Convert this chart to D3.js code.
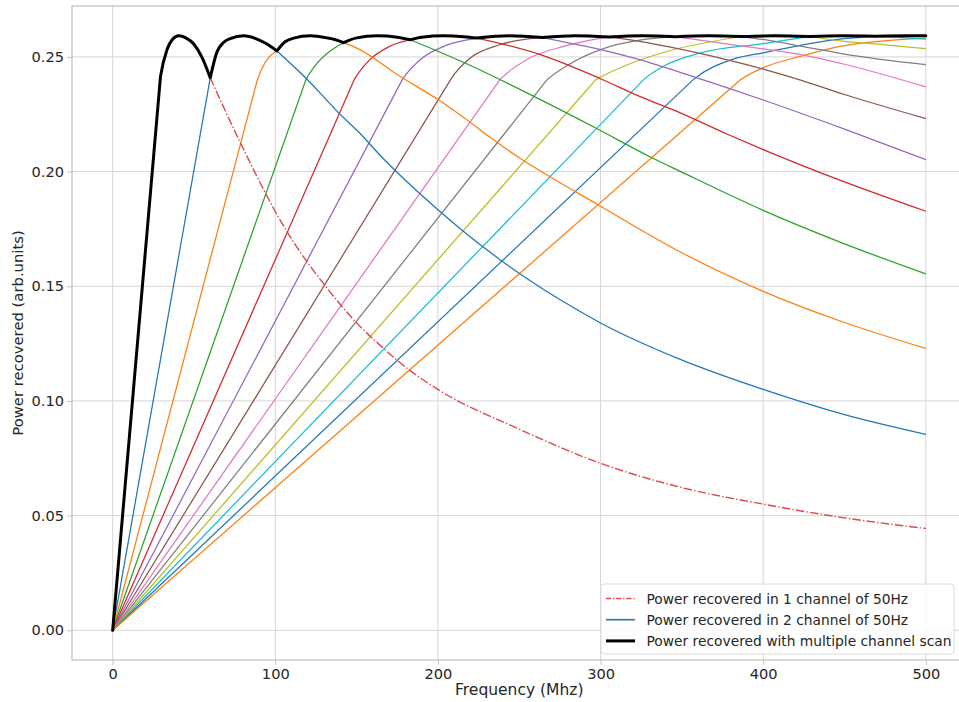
<!DOCTYPE html>
<html>
<head>
<meta charset="utf-8">
<script src="https://cdn.jsdelivr.net/npm/d3@7"></script>
<style>
  body { margin: 0; background: #fff; }
  svg { display: block; }
  text { font-family: "DejaVu Sans", sans-serif; fill: #262626; }
</style>
</head>
<body>
<svg id="chart" width="959" height="702"></svg>
<script>
// ---- data --------------------------------------------------------------
const xTicks = [0, 100, 200, 300, 400, 500];
const yTicks = [0.00, 0.05, 0.10, 0.15, 0.20, 0.25];
const xLabel = "Frequency (Mhz)";
const yLabel = "Power recovered (arb.units)";
const legendLabels = [
  "Power recovered in 1 channel of 50Hz",
  "Power recovered in 2 channel of 50Hz",
  "Power recovered with multiple channel scan"
];

// Crossover points where one channel hands over to the next (MHz, power)
const handoverPoints = [
  [60, 0.2409], [101, 0.2526], [142, 0.2562], [183, 0.2575], [224, 0.2582],
  [264, 0.2585], [305, 0.2587], [346, 0.2588], [387, 0.2589], [428, 0.2589],
  [469, 0.2590]
];

// Rising branch of each channel response: origin, knee, roll-off points
const risingBranches = [
  [[0, 0], [60, 0.2409]],
  [[0, 0], [88.7, 0.2393], [93.9, 0.2478], [101, 0.2526]],
  [[0, 0], [118.8, 0.2400], [126, 0.2475], [134, 0.2527], [142, 0.2562]],
  [[0, 0], [148.5, 0.2400], [158, 0.2487], [170, 0.2545], [183, 0.2575]],
  [[0, 0], [178, 0.2400], [190, 0.2493], [205, 0.2550], [224, 0.2582]],
  [[0, 0], [207.7, 0.2400], [220, 0.2496], [238, 0.2553], [264, 0.2585]],
  [[0, 0], [238, 0.2400], [255, 0.2490], [279, 0.2549], [305, 0.2587]],
  [[0, 0], [267, 0.2400], [280, 0.2465], [300, 0.2532], [326, 0.2575], [346, 0.2588]],
  [[0, 0], [297, 0.2400], [318, 0.2470], [343, 0.2528], [387, 0.2589]],
  [[0, 0], [326.5, 0.2401], [338.7, 0.2459], [361.2, 0.2517], [400, 0.2558], [428, 0.2589]],
  [[0, 0], [357, 0.2401], [381.6, 0.2490], [400, 0.2518], [447, 0.2578], [469, 0.2590]],
  [[0, 0], [386, 0.2400], [400, 0.2453], [422.7, 0.2502], [447.3, 0.2546], [500, 0.2582]]
];

// Falling branch of each channel response
const fallingBranches = [
  [[101, 0.2526], [118.6, 0.2409], [139, 0.2256], [152, 0.2167], [165, 0.2067], [200, 0.1834],
   [238, 0.1617], [275, 0.1442], [300, 0.1340], [349, 0.1181], [400, 0.1050], [450, 0.0940], [500, 0.0854]],
  [[142, 0.2562], [152, 0.2532], [175, 0.2423], [200, 0.2314], [250, 0.2060], [300, 0.1849],
   [350, 0.1646], [400, 0.1478], [450, 0.1342], [500, 0.1229]],
  [[183, 0.2575], [219, 0.2466], [259, 0.2328], [297, 0.2190], [330, 0.2066], [349, 0.2001],
   [400, 0.1831], [450, 0.1685], [500, 0.1554]],
  [[224, 0.2582], [263, 0.2510], [299, 0.2408], [324, 0.2328], [349, 0.2256], [378, 0.2163],
   [400, 0.2096], [450, 0.1955], [500, 0.1827]],
  [[264, 0.2585], [281, 0.2560], [300, 0.2532], [324, 0.2488], [357, 0.2414], [400, 0.2312],
   [450, 0.2185], [500, 0.2052]],
  [[305, 0.2587], [324, 0.2568], [343, 0.2543], [380, 0.2484], [400, 0.2447], [423, 0.2399],
   [450, 0.2336], [500, 0.2231]],
  [[346, 0.2588], [359, 0.2575], [400, 0.2535], [427, 0.2505], [450, 0.2468], [500, 0.2369]],
  [[387, 0.2589], [400, 0.2576], [427, 0.2542], [450, 0.2512], [500, 0.2466]],
  [[428, 0.2589], [450, 0.2568], [475, 0.2553], [500, 0.2536]],
  [[469, 0.2590], [485, 0.2584], [500, 0.2578]]
];

// Single 50Hz channel
const singleChannel = [
  [60, 0.2409], [78.5, 0.2126], [107, 0.1740], [130, 0.1508], [152, 0.1326], [165, 0.1239],
  [182, 0.1137], [200, 0.1050], [250, 0.0877], [300, 0.0728], [350, 0.0622], [400, 0.0550],
  [450, 0.0490], [500, 0.0444]
];

// Envelope obtained by scanning across channels
const scanEnvelope = [
  [0, 0], [29.4, 0.2414], [33.4, 0.2531], [37, 0.2578], [40.6, 0.2592], [45, 0.2583],
  [50, 0.2555], [55, 0.2497], [60, 0.2409],
  [64.2, 0.2523], [68, 0.2562], [72.3, 0.2580], [80.5, 0.2592], [88.7, 0.2578], [94.9, 0.2556], [101, 0.2526],
  [106, 0.2566], [111.3, 0.2582], [121.5, 0.2592], [131.8, 0.2583], [137, 0.2575], [142, 0.2562],
  [150, 0.2583], [162.5, 0.2592], [175, 0.2586], [183, 0.2575],
  [190, 0.2586], [203.5, 0.2592], [216, 0.2588], [224, 0.2582],
  [244, 0.2592], [264, 0.2585],
  [284.5, 0.2592], [305, 0.2587],
  [325.5, 0.2592], [346, 0.2588],
  [366.5, 0.2592], [387, 0.2589],
  [407.5, 0.2592], [428, 0.2589],
  [448.5, 0.2592], [469, 0.2590],
  [489.5, 0.2592], [500, 0.2592]
];

// ---- layout ------------------------------------------------------------
const frame = { left: 72, right: 966.5, top: 6, bottom: 660 };
const palette = ["#1f77b4", "#ff7f0e", "#2ca02c", "#d62728", "#9467bd",
                 "#8c564b", "#e377c2", "#7f7f7f", "#bcbd22", "#17becf"];

const svg = d3.select("#chart");

const x = d3.scaleLinear().domain([-25, 525]).range([frame.left, frame.right]);
const y = d3.scaleLinear().domain([-0.01296, 0.2722]).range([frame.bottom, frame.top]);

svg.append("defs").append("clipPath").attr("id", "plot-clip")
  .append("rect")
  .attr("x", frame.left).attr("y", frame.top)
  .attr("width", frame.right - frame.left).attr("height", frame.bottom - frame.top);

// grid
const grid = svg.append("g");
grid.selectAll(".gx").data(xTicks).join("line")
  .attr("x1", d => x(d)).attr("x2", d => x(d))
  .attr("y1", frame.top).attr("y2", frame.bottom)
  .attr("stroke", "#d6d6d6").attr("stroke-width", 1);
grid.selectAll(".gy").data(yTicks).join("line")
  .attr("x1", frame.left).attr("x2", frame.right)
  .attr("y1", d => y(d)).attr("y2", d => y(d))
  .attr("stroke", "#d6d6d6").attr("stroke-width", 1);

// axes
const xAxis = svg.append("g")
  .attr("transform", `translate(0,${frame.bottom})`)
  .call(d3.axisBottom(x).tickValues(xTicks).tickFormat(d3.format("d")).tickSize(5).tickPadding(4));
const yAxis = svg.append("g")
  .attr("transform", `translate(${frame.left},0)`)
  .call(d3.axisLeft(y).tickValues(yTicks).tickFormat(d3.format(".2f")).tickSize(5).tickPadding(3));
[xAxis, yAxis].forEach(g => {
  g.select(".domain").remove();
  g.selectAll(".tick line").attr("stroke", "#c4c4c4");
  g.selectAll(".tick text")
    .attr("font-family", "DejaVu Sans, sans-serif")
    .attr("font-size", 14.6).attr("fill", "#262626");
});

// frame
svg.append("rect")
  .attr("x", frame.left).attr("y", frame.top)
  .attr("width", frame.right - frame.left).attr("height", frame.bottom - frame.top)
  .attr("fill", "none").attr("stroke", "#b8b8b8").attr("stroke-width", 1.1);

// ---- curve helpers -----------------------------------------------------
const plot = svg.append("g").attr("clip-path", "url(#plot-clip)");
const smooth = d3.line().x(d => x(d[0])).y(d => y(d[1])).curve(d3.curveMonotoneX);

// Monotone cubic Hermite through pixel points; the first tangent leans toward
// the incoming slope but is capped so the first span stays free of inflection
function hermite(pts, startSlope) {
  const P = pts.map(d => [x(d[0]), y(d[1])]);
  const n = P.length;
  if (n < 2) return `M${P[0][0]},${P[0][1]}`;
  const h = [], s = [];
  for (let i = 0; i < n - 1; i++) {
    h.push(P[i + 1][0] - P[i][0]);
    s.push((P[i + 1][1] - P[i][1]) / h[i]);
  }
  const t = new Array(n);
  for (let i = 1; i < n - 1; i++) {
    const p = (s[i - 1] * h[i] + s[i] * h[i - 1]) / (h[i - 1] + h[i]);
    t[i] = (Math.sign(s[i - 1]) + Math.sign(s[i])) *
           Math.min(Math.abs(s[i - 1]), Math.abs(s[i]), 0.5 * Math.abs(p)) || 0;
  }
  const next = n > 2 ? Math.abs(t[1]) : Math.abs(s[0]);
  const cap = Math.max(Math.abs(s[0]), 3 * Math.abs(s[0]) - 2 * next);
  t[0] = Math.sign(s[0]) * Math.max(Math.abs(s[0]), Math.min(Math.abs(startSlope), cap));
  t[n - 1] = n > 2 ? (3 * s[n - 2] - t[n - 2]) / 2 : s[0];
  let d = `M${P[0][0]},${P[0][1]}`;
  for (let i = 0; i < n - 1; i++) {
    const dx = h[i] / 3;
    d += `C${P[i][0] + dx},${P[i][1] + t[i] * dx},${P[i + 1][0] - dx},${P[i + 1][1] - t[i + 1] * dx},${P[i + 1][0]},${P[i + 1][1]}`;
  }
  return d;
}

// straight rise from the origin, then a roll-off into the crossover
function risingPath(pts) {
  const o = [x(pts[0][0]), y(pts[0][1])];
  const k = [x(pts[1][0]), y(pts[1][1])];
  const slope = (k[1] - o[1]) / (k[0] - o[0]);
  return `M${o[0]},${o[1]}` + hermite(pts.slice(1), slope).replace(/^M/, "L");
}

// ---- marks -------------------------------------------------------------
plot.selectAll(".rise").data(risingBranches).join("path")
  .attr("d", risingPath)
  .attr("fill", "none")
  .attr("stroke", (d, i) => palette[i % palette.length])
  .attr("stroke-width", 1.25);

plot.selectAll(".fall").data(fallingBranches).join("path")
  .attr("d", smooth)
  .attr("fill", "none")
  .attr("stroke", (d, i) => palette[i % palette.length])
  .attr("stroke-width", 1.25);

plot.append("path").datum(singleChannel)
  .attr("d", smooth)
  .attr("fill", "none")
  .attr("stroke", "#e0474c")
  .attr("stroke-width", 1.4)
  .attr("stroke-dasharray", "8.5,2.2,1.4,2.2");

// envelope: smooth humps joined by sharp cusps at each crossover
const cuspX = new Set(handoverPoints.map(p => p[0]));
const segments = [];
let current = [];
scanEnvelope.forEach((p, i) => {
  current.push(p);
  if (i > 0 && cuspX.has(p[0])) { segments.push(current); current = [p]; }
});
if (current.length > 1) segments.push(current);

const envelopeD = segments.map((s, i) => i === 0 ? risingPath(s) : smooth(s)).join("");
plot.append("path")
  .attr("d", envelopeD)
  .attr("fill", "none")
  .attr("stroke", "#000")
  .attr("stroke-width", 3)
  .attr("stroke-linejoin", "round")
  .attr("stroke-linecap", "round");

// axis titles
svg.append("text")
  .attr("x", (frame.left + frame.right) / 2).attr("y", 695)
  .attr("text-anchor", "middle").attr("font-size", 15.5)
  .text(xLabel);
svg.append("text")
  .attr("transform", `translate(23,${(frame.top + frame.bottom) / 2}) rotate(-90)`)
  .attr("text-anchor", "middle").attr("font-size", 14.8)
  .text(yLabel);

// legend
const legend = svg.append("g").attr("transform", "translate(601,584)");
legend.append("rect")
  .attr("width", 353).attr("height", 70).attr("rx", 3)
  .attr("fill", "#fff").attr("fill-opacity", 0.8)
  .attr("stroke", "#dcdcdc").attr("stroke-width", 1);
const legendStyles = [
  { color: "#e0474c", width: 1.4, dash: "5,2,1.2,2" },
  { color: palette[0], width: 1.6, dash: null },
  { color: "#000", width: 3, dash: null }
];
const rows = legend.selectAll(".row").data(legendLabels).join("g")
  .attr("transform", (d, i) => `translate(0,${14.5 + i * 21.2})`);
rows.append("line")
  .attr("x1", 5).attr("x2", 34).attr("y1", 0).attr("y2", 0)
  .attr("stroke", (d, i) => legendStyles[i].color)
  .attr("stroke-width", (d, i) => legendStyles[i].width)
  .attr("stroke-dasharray", (d, i) => legendStyles[i].dash);
rows.append("text")
  .attr("x", 45.5).attr("y", 5)
  .attr("font-size", 13.8)
  .text(d => d);
</script>
</body>
</html>
